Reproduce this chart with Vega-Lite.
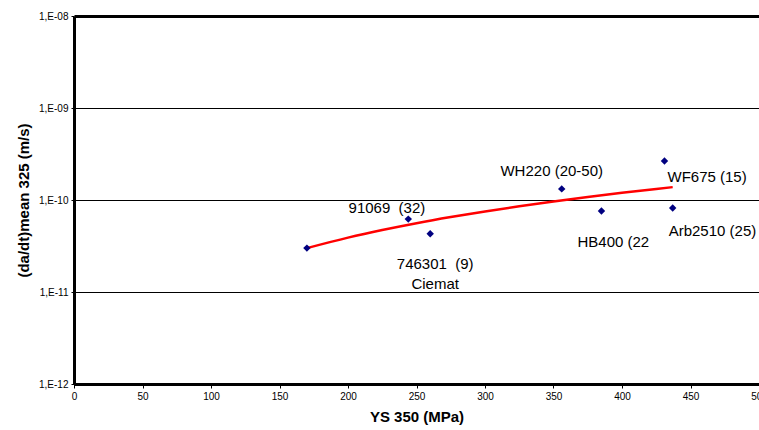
{
  "$schema": "https://vega.github.io/schema/vega-lite/v6.json",
  "width": 685,
  "height": 368,
  "autosize": {"type": "none"},
  "padding": {"left": 74, "top": 16, "right": 0, "bottom": 46},
  "background": "white",
  "config": {
    "font": "Liberation Sans",
    "view": {"stroke": null},
    "axis": {"labelFont": "Liberation Sans", "titleFont": "Liberation Sans", "labelColor": "black", "titleColor": "black", "tickColor": "black", "domainColor": "black"}
  },
  "datasets": {
    "pts": [
      {"ys": 170, "rate": 3.0e-11, "name": "P170"},
      {"ys": 244, "rate": 6.2e-11, "name": "91069"},
      {"ys": 260, "rate": 4.3e-11, "name": "746301"},
      {"ys": 356, "rate": 1.32e-10, "name": "WH220"},
      {"ys": 385, "rate": 7.6e-11, "name": "HB400"},
      {"ys": 431, "rate": 2.65e-10, "name": "WF675"},
      {"ys": 437, "rate": 8.2e-11, "name": "Arb2510"}
    ],
    "trend": [
      {"ys": 170, "rate": 3.0e-11},
      {"ys": 200, "rate": 3.9e-11},
      {"ys": 225, "rate": 4.72e-11},
      {"ys": 250, "rate": 5.6e-11},
      {"ys": 275, "rate": 6.53e-11},
      {"ys": 300, "rate": 7.51e-11},
      {"ys": 325, "rate": 8.55e-11},
      {"ys": 350, "rate": 9.64e-11},
      {"ys": 375, "rate": 1.077e-10},
      {"ys": 400, "rate": 1.196e-10},
      {"ys": 425, "rate": 1.319e-10},
      {"ys": 437, "rate": 1.38e-10}
    ]
  },
  "encoding": {
    "x": {"field": "ys", "type": "quantitative",
      "scale": {"domain": [0, 500], "nice": false, "zero": false},
      "axis": {"title": "YS 350 (MPa)", "titleFontSize": 15, "titleFontWeight": "bold", "titlePadding": 8,
        "values": [0, 50, 100, 150, 200, 250, 300, 350, 400, 450, 500], "grid": false,
        "labelFontSize": 10, "tickSize": 4, "labelPadding": 3, "domainWidth": 3, "labelFlush": false}},
    "y": {"field": "rate", "type": "quantitative",
      "scale": {"type": "log", "domain": [1e-12, 1e-8], "nice": false},
      "axis": {"title": "(da/dt)mean 325 (m/s)", "titleFontSize": 15, "titleFontWeight": "bold", "titlePadding": 7,
        "values": [1e-12, 1e-11, 1e-10, 1e-9, 1e-8], "grid": true, "gridColor": "black", "gridOpacity": 1,
        "gridWidth": {"condition": {"test": "datum.value > 5e-9", "value": 3}, "value": 1},
        "labelExpr": "'1,E-' + format(round(-log(datum.value)/LN10), '02d')",
        "labelFontSize": 10, "tickSize": 3, "labelPadding": 3, "domainWidth": 3, "labelFlush": false}}
  },
  "layer": [
    {"data": {"name": "trend"}, "mark": {"type": "line", "color": "#ff0000", "strokeWidth": 2.5, "interpolate": "monotone"}},
    {"data": {"name": "pts"}, "mark": {"type": "point", "shape": "diamond", "filled": true, "color": "#000080", "size": 55, "opacity": 1}},
    {"data": {"name": "pts"}, "transform": [{"filter": "datum.name == '91069'"}],
      "mark": {"type": "text", "text": "91069\u00a0 (32)", "fontSize": 15, "align": "right", "baseline": "alphabetic", "dx": 17, "dy": -6}},
    {"data": {"name": "pts"}, "transform": [{"filter": "datum.name == 'WH220'"}],
      "mark": {"type": "text", "text": "WH220 (20-50)", "fontSize": 15, "align": "center", "baseline": "alphabetic", "dx": -10, "dy": -13}},
    {"data": {"name": "pts"}, "transform": [{"filter": "datum.name == 'WF675'"}],
      "mark": {"type": "text", "text": "WF675 (15)", "fontSize": 15, "align": "left", "baseline": "alphabetic", "dx": 3, "dy": 21}},
    {"data": {"name": "pts"}, "transform": [{"filter": "datum.name == '746301'"}],
      "mark": {"type": "text", "text": "746301\u00a0 (9)", "fontSize": 15, "align": "center", "baseline": "alphabetic", "dx": 5, "dy": 35}},
    {"data": {"name": "pts"}, "transform": [{"filter": "datum.name == '746301'"}],
      "mark": {"type": "text", "text": "Ciemat", "fontSize": 15, "align": "center", "baseline": "alphabetic", "dx": 5, "dy": 55}},
    {"data": {"name": "pts"}, "transform": [{"filter": "datum.name == 'HB400'"}],
      "mark": {"type": "text", "text": "HB400 (22", "fontSize": 15, "align": "left", "baseline": "alphabetic", "dx": -24, "dy": 36}},
    {"data": {"name": "pts"}, "transform": [{"filter": "datum.name == 'Arb2510'"}],
      "mark": {"type": "text", "text": "Arb2510 (25)", "fontSize": 15, "align": "left", "baseline": "alphabetic", "dx": -4, "dy": 28}},
    {"data": {"values": [{"t": "VHP materials"}]},
      "mark": {"type": "text", "fontSize": 18, "fontWeight": "bold", "align": "center", "baseline": "alphabetic"},
      "encoding": {"x": {"datum": 248}, "y": {"datum": 2.79e-9}, "text": {"field": "t"}}},
    {"data": {"values": [{"t": "% GBC into brackets"}]},
      "mark": {"type": "text", "fontSize": 15, "fontWeight": "bold", "align": "center", "baseline": "alphabetic"},
      "encoding": {"x": {"datum": 411}, "y": {"datum": 3.86e-9}, "text": {"field": "t"}}}
  ]
}
